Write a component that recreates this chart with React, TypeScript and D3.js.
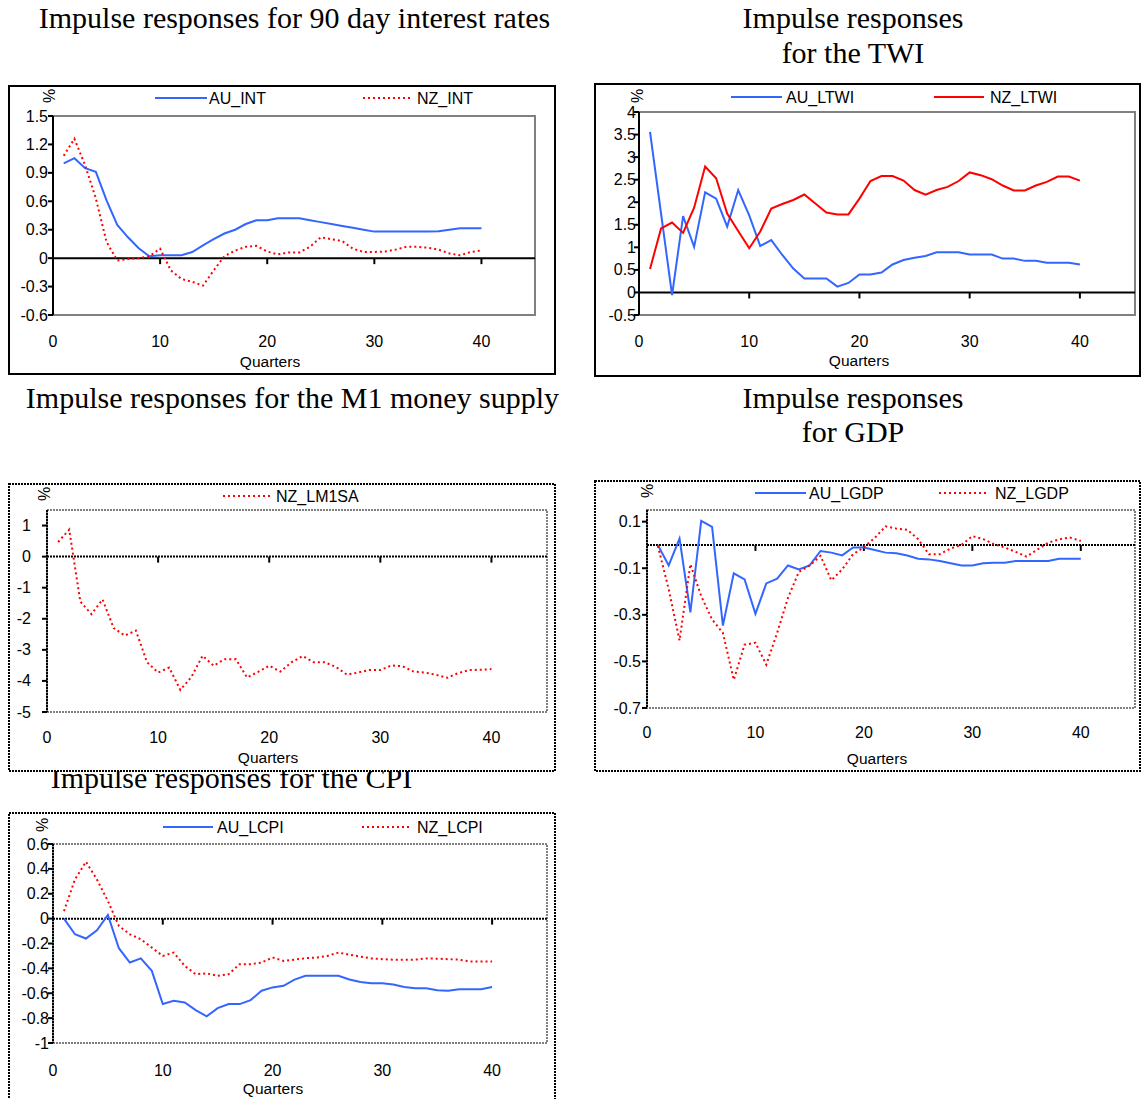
import React from 'react';
import * as d3 from 'd3';

// quarters after the shock
const quarters = [1, 2, 3, 4, 5, 6, 7, 8, 9, 10, 11, 12, 13, 14, 15, 16, 17, 18, 19, 20,
  21, 22, 23, 24, 25, 26, 27, 28, 29, 30, 31, 32, 33, 34, 35, 36, 37, 38, 39, 40];
const xTickLabels = [0, 10, 20, 30, 40];

// 90 day interest rates
const auInt = [1.0, 1.055, 0.95, 0.91, 0.61, 0.35, 0.22, 0.105, 0.02, 0.03, 0.03, 0.03, 0.065, 0.135, 0.2, 0.26, 0.3, 0.36, 0.4, 0.4,
  0.42, 0.42, 0.42, 0.4, 0.38, 0.36, 0.34, 0.32, 0.3, 0.28, 0.28, 0.28, 0.28, 0.28, 0.28, 0.285, 0.3, 0.315, 0.315, 0.315];
const nzInt = [1.08, 1.26, 0.98, 0.63, 0.17, -0.025, -0.01, 0.0, 0.02, 0.1, -0.13, -0.22, -0.25, -0.29, -0.13, 0.02, 0.08, 0.12, 0.13, 0.07,
  0.04, 0.06, 0.06, 0.12, 0.22, 0.2, 0.18, 0.1, 0.065, 0.065, 0.07, 0.09, 0.12, 0.12, 0.11, 0.09, 0.05, 0.03, 0.065, 0.08];
const intTicks = [-0.6, -0.3, 0, 0.3, 0.6, 0.9, 1.2, 1.5];

// trade weighted index
const auTwi = [3.56, 1.75, -0.06, 1.69, 1.01, 2.22, 2.08, 1.46, 2.27, 1.71, 1.03, 1.16, 0.83, 0.53, 0.31, 0.31, 0.31, 0.13, 0.21, 0.4,
  0.4, 0.44, 0.62, 0.72, 0.77, 0.81, 0.89, 0.89, 0.89, 0.84, 0.84, 0.84, 0.75, 0.75, 0.7, 0.7, 0.66, 0.66, 0.66, 0.62];
const nzTwi = [0.52, 1.42, 1.55, 1.32, 1.88, 2.79, 2.53, 1.75, 1.36, 0.98, 1.35, 1.86, 1.96, 2.05, 2.17, 1.97, 1.77, 1.73, 1.73, 2.08,
  2.47, 2.58, 2.58, 2.48, 2.27, 2.17, 2.27, 2.34, 2.47, 2.66, 2.6, 2.51, 2.37, 2.26, 2.26, 2.37, 2.45, 2.57, 2.57, 2.48];
const twiTicks = [-0.5, 0, 0.5, 1, 1.5, 2, 2.5, 3, 3.5, 4];

// M1 money supply
const nzM1 = [0.47, 0.87, -1.45, -1.85, -1.38, -2.3, -2.54, -2.38, -3.4, -3.73, -3.57, -4.29, -3.87, -3.19, -3.51, -3.3, -3.3, -3.89, -3.71, -3.51,
  -3.7, -3.4, -3.2, -3.4, -3.4, -3.55, -3.8, -3.73, -3.65, -3.65, -3.5, -3.53, -3.7, -3.73, -3.8, -3.9, -3.75, -3.65, -3.64, -3.62];
const m1Ticks = [-5, -4, -3, -2, -1, 0, 1];

// GDP
const auGdp = [0.0, -0.088, 0.027, -0.289, 0.103, 0.078, -0.346, -0.122, -0.148, -0.296, -0.165, -0.145, -0.088, -0.105, -0.088, -0.026, -0.033, -0.045, -0.011, -0.011,
  -0.022, -0.033, -0.036, -0.045, -0.059, -0.062, -0.069, -0.079, -0.088, -0.088, -0.079, -0.076, -0.076, -0.069, -0.069, -0.069, -0.069, -0.059, -0.059, -0.059];
const nzGdp = [-0.004, -0.19, -0.41, -0.083, -0.22, -0.32, -0.378, -0.579, -0.428, -0.42, -0.514, -0.378, -0.227, -0.116, -0.088, -0.047, -0.152, -0.105, -0.04, -0.01,
  0.03, 0.08, 0.07, 0.065, 0.025, -0.04, -0.04, -0.015, 0.0, 0.038, 0.025, 0.003, -0.011, -0.03, -0.05, -0.02, 0.01, 0.024, 0.032, 0.017];
const gdpTicks = [-0.7, -0.5, -0.3, -0.1, 0.1];

// CPI
const auCpi = [0.0, -0.126, -0.16, -0.094, 0.03, -0.238, -0.353, -0.32, -0.42, -0.687, -0.66, -0.674, -0.735, -0.786, -0.72, -0.687, -0.687, -0.655, -0.58, -0.553,
  -0.54, -0.49, -0.46, -0.46, -0.46, -0.46, -0.49, -0.51, -0.52, -0.52, -0.53, -0.55, -0.56, -0.56, -0.575, -0.58, -0.567, -0.567, -0.567, -0.55];
const nzCpi = [0.06, 0.315, 0.457, 0.315, 0.142, -0.059, -0.126, -0.166, -0.233, -0.3, -0.273, -0.38, -0.447, -0.44, -0.46, -0.447, -0.366, -0.366, -0.353, -0.313,
  -0.34, -0.33, -0.318, -0.313, -0.3, -0.273, -0.29, -0.305, -0.32, -0.326, -0.33, -0.33, -0.33, -0.32, -0.322, -0.326, -0.33, -0.345, -0.345, -0.345];
const cpiTicks = [-1, -0.8, -0.6, -0.4, -0.2, 0, 0.2, 0.4, 0.6];

const BLUE = '#3366ff';
const RED = '#ff0000';
const SANS = '"Liberation Sans", Arial, sans-serif';
const SERIF = '"Liberation Serif", "Times New Roman", serif';
const DOTS = '2,3';

type Series = { name: string; values: number[]; color: string; dash?: string; lx1: number; lx2: number; tx: number };
type PanelCfg = {
  frame: [number, number, number, number];
  plot: { l: number; t: number; r: number; b: number };
  yDomain: [number, number];
  yTicks: number[];
  yLabelX: number;
  xLabelY: number;
  quartersAt: [number, number];
  pctAt: [number, number];
  legendY: number;
  dotted: boolean;
  series: Series[];
};

const panels: PanelCfg[] = [
  {
    frame: [8, 85, 548, 290], plot: { l: 53, t: 116, r: 535, b: 315 }, yDomain: [-0.6, 1.5], yTicks: intTicks,
    yLabelX: 48, xLabelY: 341, quartersAt: [270, 361], pctAt: [49, 96], legendY: 98, dotted: false,
    series: [
      { name: 'AU_INT', values: auInt, color: BLUE, lx1: 155, lx2: 207, tx: 209 },
      { name: 'NZ_INT', values: nzInt, color: RED, dash: DOTS, lx1: 363, lx2: 412, tx: 417 },
    ],
  },
  {
    frame: [594, 83, 547, 294], plot: { l: 639, t: 112, r: 1135, b: 315 }, yDomain: [-0.5, 4], yTicks: twiTicks,
    yLabelX: 636, xLabelY: 341, quartersAt: [859, 360], pctAt: [637, 96], legendY: 97, dotted: false,
    series: [
      { name: 'AU_LTWI', values: auTwi, color: BLUE, lx1: 731, lx2: 782, tx: 786 },
      { name: 'NZ_LTWI', values: nzTwi, color: RED, lx1: 934, lx2: 984, tx: 990 },
    ],
  },
  {
    frame: [8, 483, 548, 289], plot: { l: 47, t: 510, r: 547, b: 712 }, yDomain: [-5, 1.5], yTicks: m1Ticks,
    yLabelX: 31, xLabelY: 737, quartersAt: [268, 757], pctAt: [44, 494], legendY: 496, dotted: true,
    series: [
      { name: 'NZ_LM1SA', values: nzM1, color: RED, dash: DOTS, lx1: 223, lx2: 271, tx: 276 },
    ],
  },
  {
    frame: [594, 480, 547, 292], plot: { l: 647, t: 510, r: 1135, b: 708 }, yDomain: [-0.7, 0.15], yTicks: gdpTicks,
    yLabelX: 641, xLabelY: 732, quartersAt: [877, 758], pctAt: [647, 491], legendY: 493, dotted: true,
    series: [
      { name: 'AU_LGDP', values: auGdp, color: BLUE, lx1: 755, lx2: 806, tx: 809 },
      { name: 'NZ_LGDP', values: nzGdp, color: RED, dash: DOTS, lx1: 939, lx2: 989, tx: 995 },
    ],
  },
  {
    frame: [8, 812, 548, 290], plot: { l: 53, t: 844, r: 547, b: 1043 }, yDomain: [-1, 0.6], yTicks: cpiTicks,
    yLabelX: 49, xLabelY: 1070, quartersAt: [273, 1088], pctAt: [42, 825], legendY: 827, dotted: true,
    series: [
      { name: 'AU_LCPI', values: auCpi, color: BLUE, lx1: 163, lx2: 213, tx: 217 },
      { name: 'NZ_LCPI', values: nzCpi, color: RED, dash: DOTS, lx1: 362, lx2: 410, tx: 417 },
    ],
  },
];

function Panel({ cfg }: { cfg: PanelCfg }) {
  const { plot } = cfg;
  const x = d3.scaleLinear().domain([0, 45]).range([plot.l, plot.r]);
  const y = d3.scaleLinear().domain(cfg.yDomain).range([plot.b, plot.t]);
  const line = d3.line<number>().x((_, i) => x(quarters[i])).y(d => y(d));
  const [fx, fy, fw, fh] = cfg.frame;
  const axisDash = cfg.dotted ? '2,1' : undefined;

  return (
    <g fontFamily={SANS} fontSize={16} fill="#000">
      <rect x={fx + 1} y={fy + 1} width={fw - 2} height={fh - 2} fill="#fff" stroke="#000" strokeWidth={2} strokeDasharray={axisDash} />
      {/* plot area */}
      <rect x={plot.l} y={plot.t} width={plot.r - plot.l} height={plot.b - plot.t} fill="none" stroke="#808080" strokeWidth={2} strokeDasharray={axisDash} />
      <line x1={plot.l} x2={plot.l} y1={plot.t} y2={plot.b} stroke="#000" strokeWidth={2} strokeDasharray={axisDash} />
      <line x1={plot.l} x2={plot.r} y1={y(0)} y2={y(0)} stroke="#000" strokeWidth={2} strokeDasharray={axisDash} />
      {cfg.yTicks.map(t => (
        <g key={t}>
          <line x1={plot.l - 5} x2={plot.l} y1={y(t)} y2={y(t)} stroke="#000" strokeWidth={2} />
          <text x={cfg.yLabelX} y={y(t)} textAnchor="end" dominantBaseline="central">{String(t)}</text>
        </g>
      ))}
      {xTickLabels.map(t => (
        <g key={t}>
          {t > 0 && <line x1={x(t)} x2={x(t)} y1={y(0)} y2={y(0) + 6} stroke="#000" strokeWidth={2} />}
          <text x={x(t)} y={cfg.xLabelY} textAnchor="middle" dominantBaseline="central">{t}</text>
        </g>
      ))}
      <text x={cfg.quartersAt[0]} y={cfg.quartersAt[1]} fontSize={15.5} textAnchor="middle" dominantBaseline="central">Quarters</text>
      <text transform={`translate(${cfg.pctAt[0]},${cfg.pctAt[1]}) rotate(-90)`} textAnchor="middle" dominantBaseline="central">%</text>
      {cfg.series.map(s => (
        <g key={s.name}>
          <path d={line(s.values) ?? ''} fill="none" stroke={s.color} strokeWidth={2} strokeDasharray={s.dash} />
          <line x1={s.lx1} x2={s.lx2} y1={cfg.legendY} y2={cfg.legendY} stroke={s.color} strokeWidth={2} strokeDasharray={s.dash} />
          <text x={s.tx} y={cfg.legendY} dominantBaseline="central">{s.name}</text>
        </g>
      ))}
    </g>
  );
}

export default function App() {
  return (
    <svg width={1141} height={1099} style={{ position: 'absolute', left: 0, top: 0, background: '#fff' }}>
      <rect width={1141} height={1099} fill="#fff" />
      <g fontFamily={SERIF} fontSize={30} fill="#000" textAnchor="middle">
        <text x={294.5} y={27.5}>Impulse responses for 90 day interest rates</text>
        <text x={853} y={27.5}>Impulse responses</text>
        <text x={853} y={62.5}>for the TWI</text>
        <text x={292.5} y={408}>Impulse responses for the M1 money supply</text>
        <text x={853} y={408}>Impulse responses</text>
        <text x={853} y={442}>for GDP</text>
        <text x={231.5} y={788}>Impulse responses for the CPI</text>
      </g>
      {panels.map((p, i) => <Panel key={i} cfg={p} />)}
    </svg>
  );
}
